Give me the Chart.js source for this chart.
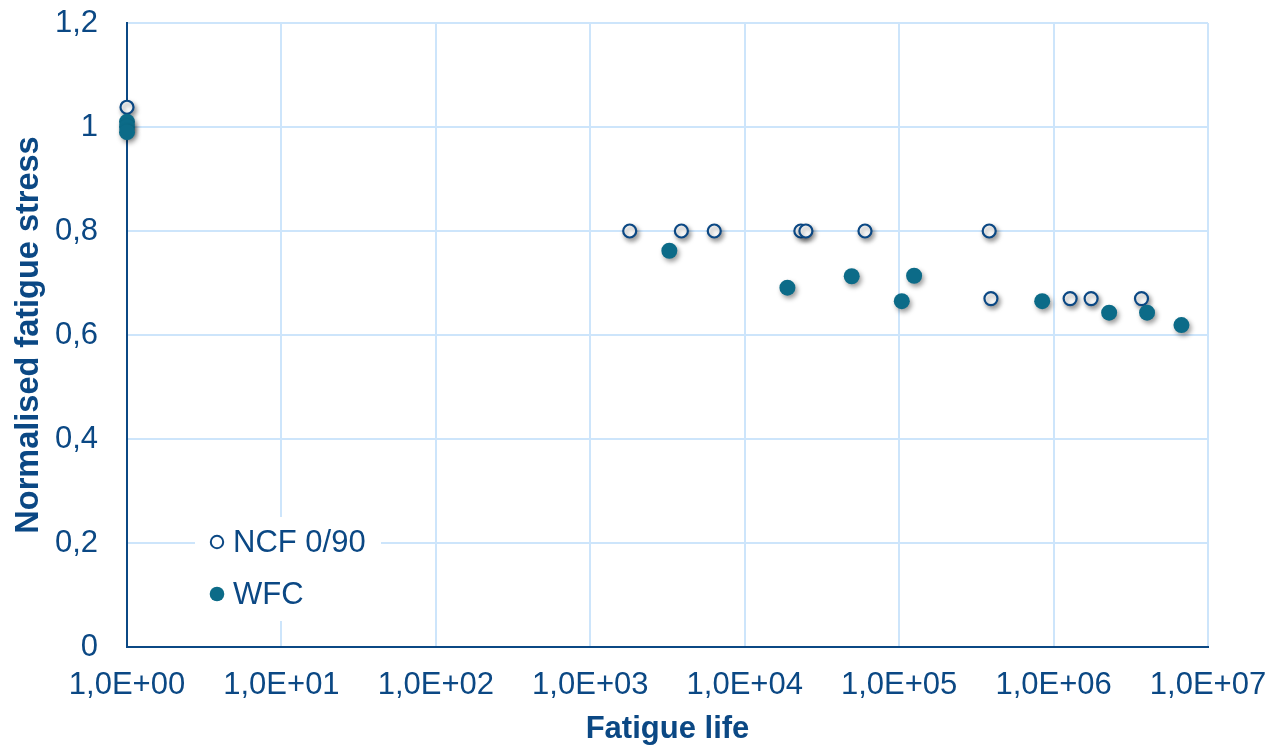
<!DOCTYPE html>
<html>
<head>
<meta charset="utf-8">
<script src="https://cdn.jsdelivr.net/npm/chart.js@4/dist/chart.umd.min.js"></script>
<style>
  html, body { margin: 0; padding: 0; background: #ffffff; }
  #wrap { width: 1274px; height: 748px; }
</style>
</head>
<body>
<div id="wrap"><canvas id="c" width="1274" height="748"></canvas></div>
<script>
// ---- data ----
const seriesNames = ['NCF 0/90', 'WFC'];
const ncfLife   = [1, 1800, 3890, 6350, 23100, 24900, 60100, 383000, 393000, 1280000, 1750000, 3710000];
const ncfStress = [1.038, 0.8, 0.8, 0.8, 0.8, 0.8, 0.8, 0.8, 0.67, 0.67, 0.67, 0.67];
const wfcLife   = [1, 1, 1, 3250, 18900, 49300, 104000, 125000, 844000, 2290000, 4030000, 6730000];
const wfcStress = [1.01, 1.0, 0.99, 0.762, 0.691, 0.713, 0.665, 0.714, 0.665, 0.643, 0.643, 0.619];
const xTickValues = [1, 10, 100, 1000, 10000, 100000, 1000000, 10000000];
const xTickLabels = ['1,0E+00', '1,0E+01', '1,0E+02', '1,0E+03', '1,0E+04', '1,0E+05', '1,0E+06', '1,0E+07'];
const yTickLabels = ['0', '0,2', '0,4', '0,6', '0,8', '1', '1,2'];
const xTitle = 'Fatigue life';
const yTitle = 'Normalised fatigue stress';

// ---- styles ----
const TEXT = '#0b4884';
const GRID = '#cde5fb';
const TEAL = '#0c6b88';
const FONT = "'Liberation Sans', Arial, sans-serif";

const toPts = (xs, ys) => xs.map((x, i) => ({ x: x, y: ys[i] }));

const shadowPlugin = {
  id: 'shadow',
  beforeDatasetsDraw(chart) {
    const ctx = chart.ctx;
    ctx.save();
    ctx.shadowColor = 'rgba(0,0,0,0.4)';
    ctx.shadowBlur = 5;
    ctx.shadowOffsetX = 2;
    ctx.shadowOffsetY = 3;
  },
  afterDatasetsDraw(chart) {
    chart.ctx.restore();
  }
};

const legendPlugin = {
  id: 'innerLegend',
  afterDatasetsDraw(chart) {
    const ctx = chart.ctx;
    const a = chart.chartArea;
    const bx = a.left + 68, by = a.top + 494, bw = 186, bh = 104;
    ctx.save();
    ctx.fillStyle = '#ffffff';
    ctx.fillRect(bx, by, bw, bh);
    ctx.font = '31px ' + FONT;
    ctx.textBaseline = 'middle';
    ctx.textAlign = 'left';
    const rows = [
      { y: by + 25, name: seriesNames[0], open: true },
      { y: by + 77, name: seriesNames[1], open: false }
    ];
    rows.forEach(r => {
      ctx.beginPath();
      if (r.open) {
        ctx.arc(bx + 22, r.y, 6.2, 0, Math.PI * 2);
        ctx.fillStyle = '#ffffff';
        ctx.fill();
        ctx.lineWidth = 2;
        ctx.strokeStyle = TEXT;
        ctx.stroke();
      } else {
        ctx.arc(bx + 22, r.y, 7.3, 0, Math.PI * 2);
        ctx.fillStyle = TEAL;
        ctx.fill();
      }
      ctx.fillStyle = TEXT;
      ctx.fillText(r.name, bx + 38, r.y + 1);
    });
    ctx.restore();
  }
};

new Chart(document.getElementById('c'), {
  type: 'scatter',
  data: {
    datasets: [
      {
        label: seriesNames[0],
        data: toPts(ncfLife, ncfStress),
        pointRadius: 6.5,
        pointHoverRadius: 6.5,
        pointBackgroundColor: '#ffffff',
        pointBorderColor: TEXT,
        pointBorderWidth: 2.2,
        order: 1,
        clip: false
      },
      {
        label: seriesNames[1],
        data: toPts(wfcLife, wfcStress),
        pointRadius: 8,
        pointHoverRadius: 8,
        pointBackgroundColor: TEAL,
        pointBorderColor: TEAL,
        pointBorderWidth: 0,
        order: 0,
        clip: false
      }
    ]
  },
  options: {
    responsive: false,
    animation: false,
    devicePixelRatio: 1,
    layout: { padding: { left: 0, right: 66, top: 23, bottom: 0 } },
    plugins: {
      legend: { display: false },
      tooltip: { enabled: false }
    },
    scales: {
      x: {
        type: 'logarithmic',
        min: 1,
        max: 10000000,
        afterBuildTicks: s => { s.ticks = xTickValues.map(v => ({ value: v })); },
        afterFit: s => { s.height = 101; s.paddingLeft = 0; s.paddingRight = 0; },
        ticks: {
          autoSkip: false,
          maxRotation: 0,
          padding: 20,
          color: TEXT,
          font: { family: FONT, size: 31 },
          callback: (v, i) => xTickLabels[i]
        },
        grid: { color: GRID, lineWidth: 2, drawTicks: false },
        border: { display: true, color: TEXT, width: 2 },
        title: {
          display: true,
          text: xTitle,
          color: TEXT,
          font: { family: FONT, size: 31, weight: 'bold' },
          padding: { top: 0, bottom: 0 }
        }
      },
      y: {
        type: 'linear',
        min: 0,
        max: 1.2,
        afterFit: s => { s.width = 127; s.paddingTop = 0; s.paddingBottom = 0; },
        ticks: {
          stepSize: 0.2,
          padding: 29,
          color: TEXT,
          font: { family: FONT, size: 31 },
          callback: (v, i) => yTickLabels[i]
        },
        grid: { color: GRID, lineWidth: 2, drawTicks: false },
        border: { display: true, color: TEXT, width: 2 },
        title: {
          display: true,
          text: yTitle,
          color: TEXT,
          font: { family: FONT, size: 32.5, weight: 'bold' },
          padding: { top: 10, bottom: 0 }
        }
      }
    }
  },
  plugins: [shadowPlugin, legendPlugin]
});
</script>
</body>
</html>
